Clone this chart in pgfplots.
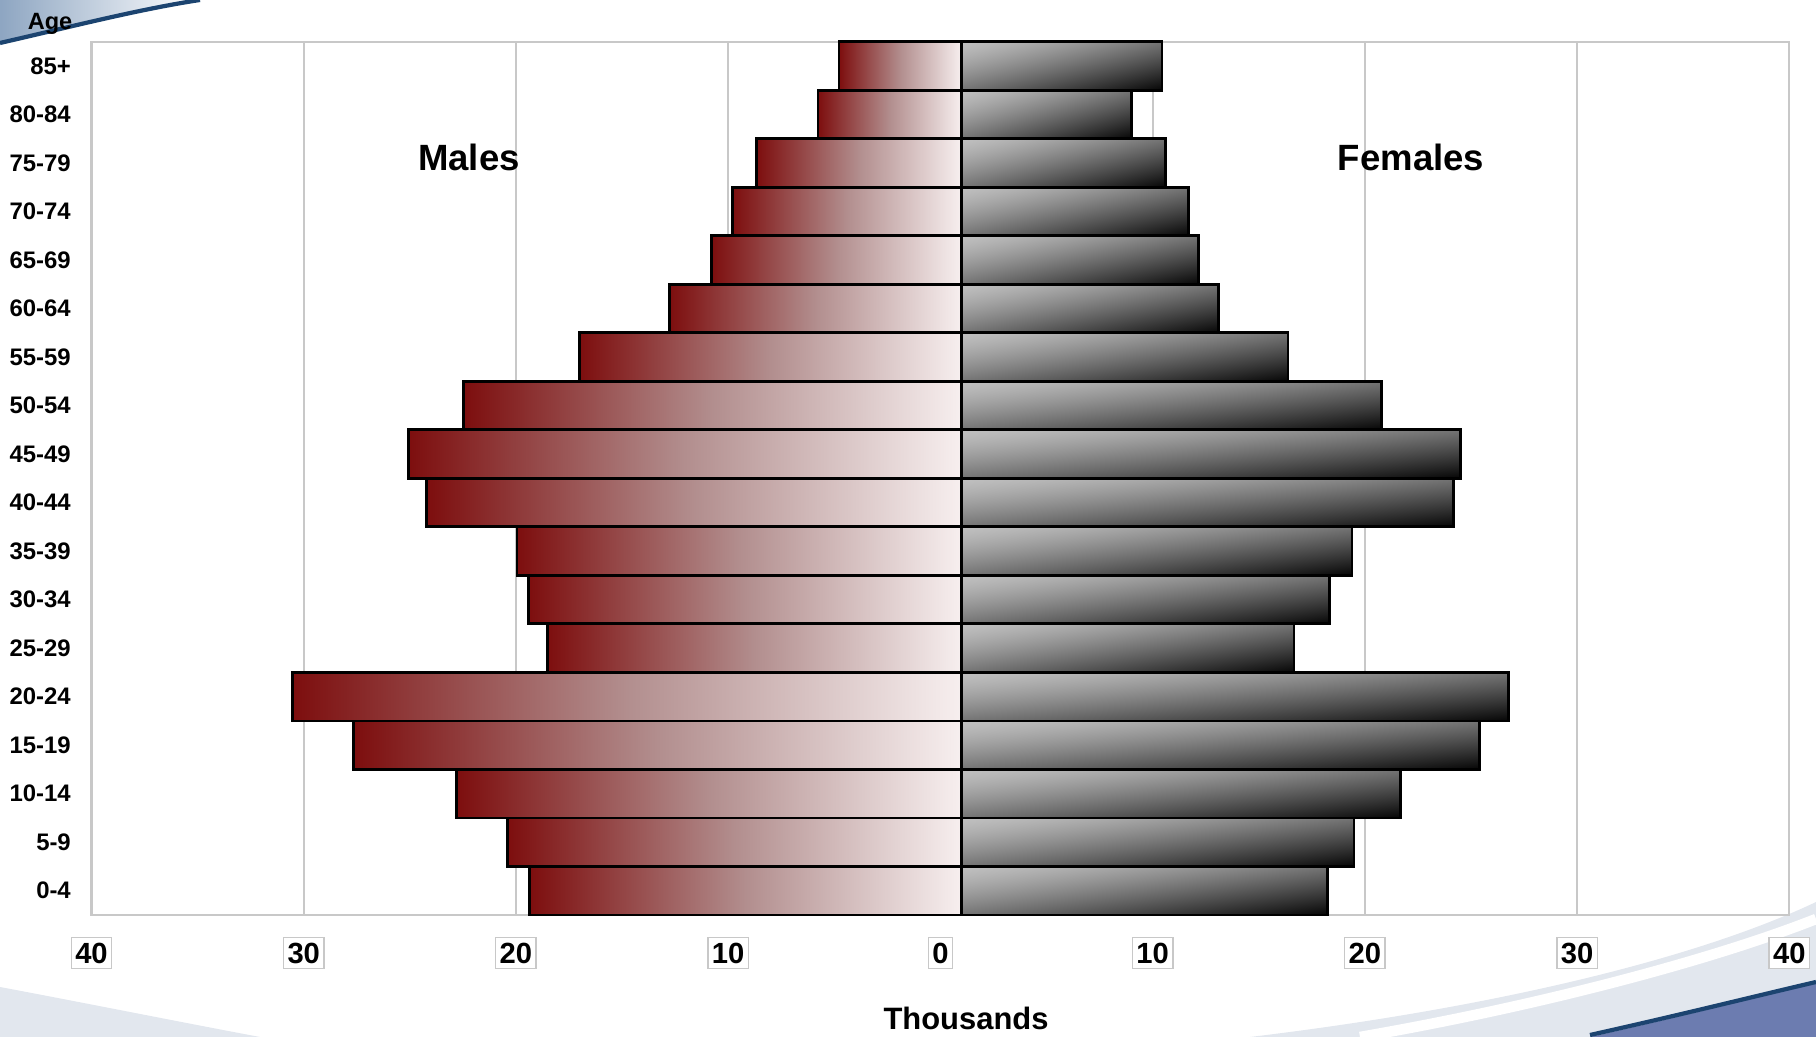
\documentclass[border=0pt]{standalone}
\usepackage{pgfplots}
\pgfplotsset{compat=1.18}
\usepackage{fontspec}
\setmainfont{Liberation Sans}

\definecolor{maleDark}{RGB}{125,14,14}
\definecolor{maleMid}{RGB}{178,142,142}
\definecolor{maleLight}{RGB}{247,239,239}
\definecolor{bgGray}{RGB}{226,231,238}
\definecolor{bgBlue}{RGB}{108,124,176}
\definecolor{bgSteel}{RGB}{170,190,214}
\definecolor{lineBlue}{RGB}{28,68,112}
\definecolor{gridGray}{RGB}{200,200,200}

% grey bars: light at the top left corner, black at the bottom right corner
\pgfdeclarefunctionalshading{femdiag}{\pgfpoint{0bp}{0bp}}{\pgfpoint{100bp}{100bp}}{}{
  75 exch sub 50 div
  exch 25 sub 50 div
  add 2 div
  dup 0 lt {pop 0} if
  dup 1 gt {pop 1} if
  1.3 exp 0.73 mul 0.75 exch sub
  dup dup
}

% male values drawn to the left of the centre line, female to the right
\pgfplotstableread{
age male female
0 -20.35 17.24
1 -21.39 18.49
2 -23.79 20.68
3 -28.64 24.39
4 -31.53 25.75
5 -19.53 15.66
6 -20.40 17.35
7 -20.95 18.39
8 -25.20 23.19
9 -26.08 23.51
10 -23.46 19.80
11 -18.00 15.38
12 -13.75 12.11
13 -11.78 11.18
14 -10.80 10.69
15 -9.66 9.60
16 -6.77 8.02
17 -5.78 9.44
}\pyramid

\begin{document}
\begin{tikzpicture}
% slide background swooshes
\shade[left color=bgSteel!80!lineBlue, right color=white] (0,9.94) .. controls (0.7,10.1) and (1.4,10.28) .. (2.0,10.37) -- (0,10.37) -- cycle;
\draw[lineBlue, line width=1.2pt] (0,9.94) .. controls (0.7,10.1) and (1.4,10.28) .. (2.0,10.37);
\fill[bgGray] (0,0) -- (0,0.5) .. controls (0.8,0.35) and (1.8,0.15) .. (2.6,0) -- cycle;
\fill[bgGray] (12.5,0) .. controls (15,0.3) and (17,0.8) .. (18.16,1.35) -- (18.16,0) -- cycle;
\draw[white, line width=3pt] (13.6,0) .. controls (15.5,0.33) and (17.2,0.8) .. (18.16,1.18);
\fill[bgBlue] (15.9,0) .. controls (16.8,0.2) and (17.6,0.4) .. (18.16,0.55) -- (18.16,0) -- cycle;
\draw[lineBlue, line width=1.2pt] (15.9,0.02) .. controls (16.8,0.22) and (17.6,0.42) .. (18.16,0.55);

\begin{axis}[
  at={(0.915cm,1.22cm)}, anchor=south west,
  scale only axis, width=16.978cm, height=8.733cm,
  xbar, bar width=1, bar shift=0,
  xmin=-41, xmax=39, ymin=-0.5, ymax=17.5,
  xtick={-41,-31,-21,-11,-1,9,19,29,39},
  xticklabels={40,30,20,10,0,10,20,30,40},
  ytick={0,...,17},
  yticklabels={0-4,5-9,10-14,15-19,20-24,25-29,30-34,35-39,40-44,45-49,50-54,55-59,60-64,65-69,70-74,75-79,80-84,85+},
  xmajorgrids,
  major grid style={draw=gridGray, line width=0.6pt},
  axis line style={draw=gridGray, line width=0.6pt},
  xtick style={draw=gridGray}, major tick length=0.06cm,
  ytick style={draw=none},
  xticklabel style={font=\fontsize{8.3}{10}\selectfont\bfseries, anchor=center,
    yshift=-0.38cm, draw=gridGray, line width=0.4pt, inner xsep=0.04cm, inner ysep=0.05cm, fill=white},
  yticklabel style={font=\fontsize{6.8}{8}\selectfont\bfseries, inner sep=0pt, xshift=-0.14cm},
  /pgf/number format/assume math mode=true,
  clip=false,
]
% one plot per bar so that every bar gets its own gradient
\pgfplotsinvokeforeach{0,...,17}{
  \addplot[draw=black, line width=0.8pt, left color=maleDark, right color=maleLight, middle color=maleMid,
    restrict expr to domain={\coordindex}{#1:#1}]
    table[x=male, y=age] {\pyramid};
  \addplot[draw=black, line width=0.8pt, shading=femdiag, shade,
    restrict expr to domain={\coordindex}{#1:#1}]
    table[x=female, y=age] {\pyramid};
}
\end{axis}

\node[font=\fontsize{10.4}{12}\selectfont\bfseries] at (4.69,8.80) {Males};
\node[font=\fontsize{10.4}{12}\selectfont\bfseries] at (14.11,8.80) {Females};
\node[font=\fontsize{6.7}{8}\selectfont\bfseries] at (0.50,10.13) {Age};
\node[font=\fontsize{8.8}{10}\selectfont\bfseries] at (9.66,0.19) {Thousands};

\pgfresetboundingbox
\path[use as bounding box] (0,0) rectangle (18.16,10.37);
\end{tikzpicture}
\end{document}
